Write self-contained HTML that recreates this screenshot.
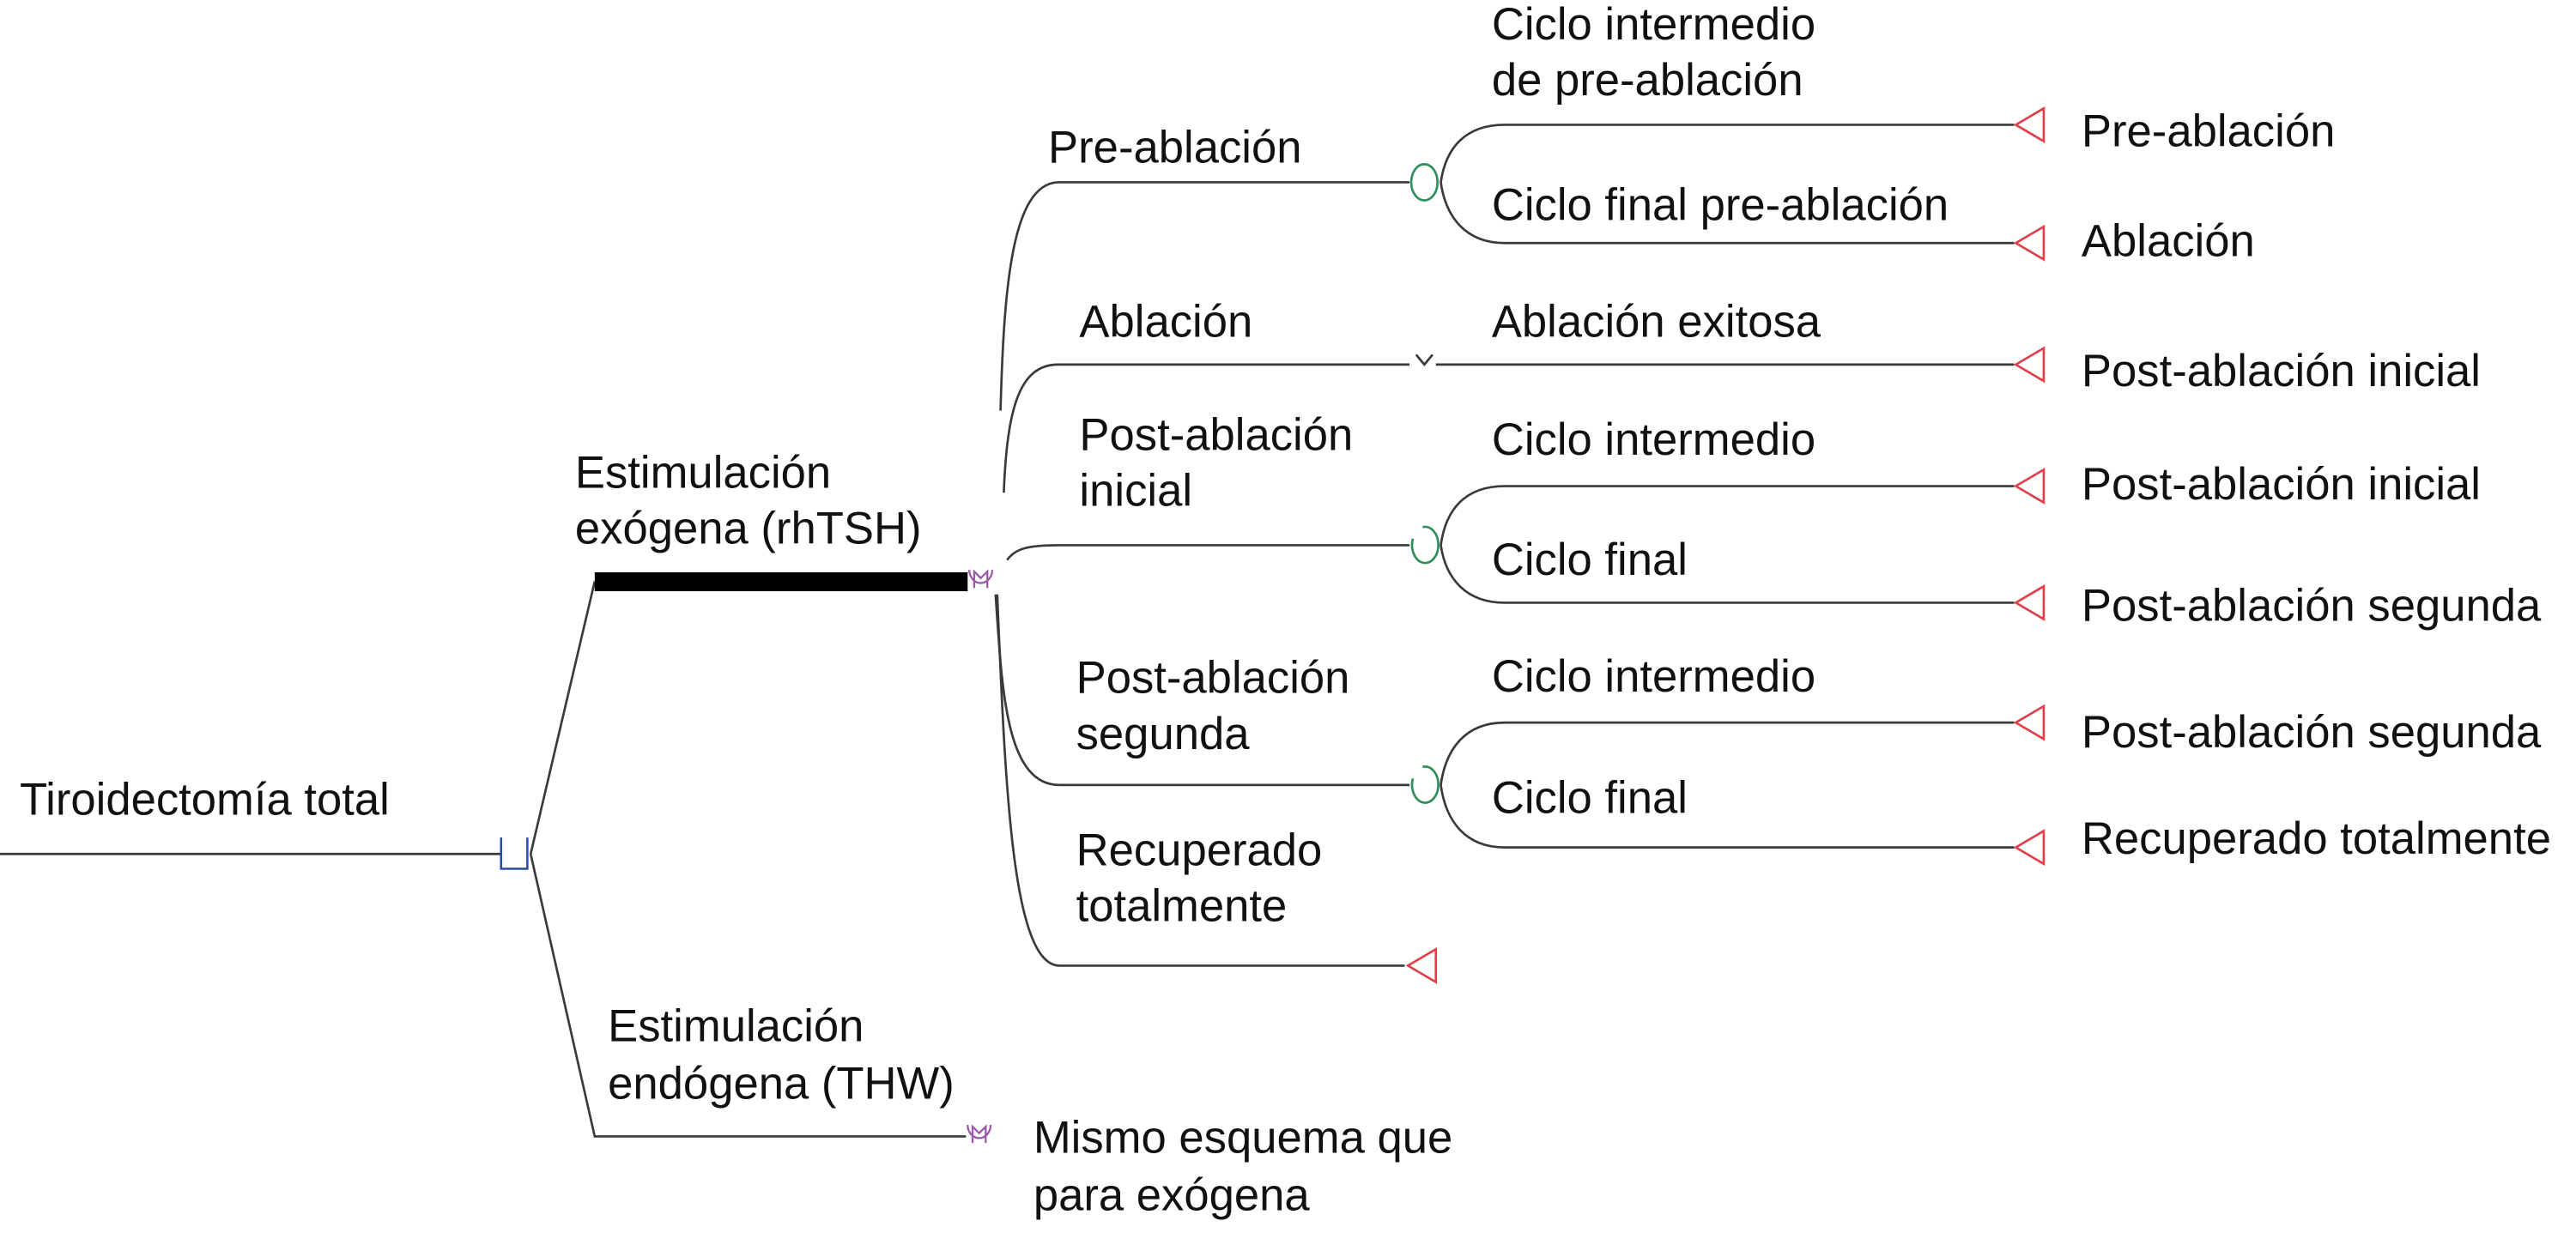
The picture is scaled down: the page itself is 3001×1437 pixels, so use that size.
<!DOCTYPE html>
<html><head><meta charset="utf-8"><style>
html,body{margin:0;padding:0;background:#fff;}
svg{display:block;}
text{font-family:"Liberation Sans",Arial,sans-serif;font-size:27.5px;fill:#111;}
</style></head><body>
<svg width="3001" height="1437" viewBox="0 0 1568 750.8" preserveAspectRatio="none" xmlns="http://www.w3.org/2000/svg">
<g fill="none" stroke="#3a3a3a" stroke-width="1.4">
<!-- root -->
<line x1="0" y1="520" x2="305" y2="520"/>
<path d="M323 520 L362 354"/>
<path d="M323 520 L362 692 L588 692"/>
<!-- fan from exogenous node -->
<path d="M609 250 C611 180 615 112 644 111 L858 111"/>
<path d="M611 300 C613 250 620 222 644 222 L858 222"/>
<path d="M613 341 C618 334 626 332 644 332 L858 332"/>
<path d="M606 362 C610 420 612 478 645 478 L858 478"/>
<path d="M607 362 C612 480 616 588 645 588 L855 588"/>
<!-- ablación exitosa -->
<path d="M862 216 L867 222 L872 216"/>
<line x1="874" y1="222" x2="1226" y2="222"/>
<!-- pre-ablación chance -->
<path d="M877 111 C880 90 892 76 916 76 L1226 76"/>
<path d="M877 111 C880 132 892 148 916 148 L1226 148"/>
<!-- post inicial chance -->
<path d="M877 332 C880 310 892 296 916 296 L1226 296"/>
<path d="M877 332 C880 352 892 367 916 367 L1226 367"/>
<!-- post segunda chance -->
<path d="M877 478 C880 456 892 440 916 440 L1226 440"/>
<path d="M877 478 C880 500 892 516 916 516 L1226 516"/>
</g>
<!-- thick bar -->
<rect x="362" y="348.5" width="227" height="11.5" fill="#000"/>
<!-- root chance node (blue) -->
<path d="M305 510 L305 529 L321 529 L321 510" fill="none" stroke="#2a4aa8" stroke-width="1.3"/>
<!-- purple nodes -->
<g fill="none" stroke="#9a5aa8" stroke-width="1.2">
<path d="M590 347 A7 8 0 1 0 604 347"/><path d="M593 358 L593 348 L597 352 L601 348 L601 358"/>
<path d="M589 685 A7 8 0 1 0 603 685"/><path d="M592 696 L592 686 L596 690 L600 686 L600 696"/>
</g>
<!-- green chance nodes -->
<g fill="none" stroke="#2f8f5a" stroke-width="1.4">
<ellipse cx="867" cy="111" rx="8" ry="11"/>
<path d="M860 328 A8 11 0 1 0 866 321"/>
<path d="M860 474 A8 11 0 1 0 866 467"/>
</g>
<!-- red terminals -->
<g fill="none" stroke="#e0404a" stroke-width="1.4">
<path d="M1244 66 L1227 76 L1244 86 Z"/>
<path d="M1244 138 L1227 148 L1244 158 Z"/>
<path d="M1244 212 L1227 222 L1244 232 Z"/>
<path d="M1244 286 L1227 296 L1244 306 Z"/>
<path d="M1244 357 L1227 367 L1244 377 Z"/>
<path d="M1244 430 L1227 440 L1244 450 Z"/>
<path d="M1244 506 L1227 516 L1244 526 Z"/>
<path d="M874 578 L857 588 L874 598 Z"/>
</g>
<!-- text -->
<text x="12" y="496">Tiroidectomía total</text>
<text x="350" y="297">Estimulación</text>
<text x="350" y="331">exógena (rhTSH)</text>
<text x="370" y="634">Estimulación</text>
<text x="370" y="669">endógena (THW)</text>
<text x="629" y="702">Mismo esquema que</text>
<text x="629" y="737">para exógena</text>
<text x="638" y="99">Pre-ablación</text>
<text x="657" y="205">Ablación</text>
<text x="657" y="274">Post-ablación</text>
<text x="657" y="308">inicial</text>
<text x="655" y="422">Post-ablación</text>
<text x="655" y="456">segunda</text>
<text x="655" y="527">Recuperado</text>
<text x="655" y="561">totalmente</text>
<text x="908" y="24">Ciclo intermedio</text>
<text x="908" y="58">de pre-ablación</text>
<text x="908" y="134">Ciclo final pre-ablación</text>
<text x="908" y="205">Ablación exitosa</text>
<text x="908" y="277">Ciclo intermedio</text>
<text x="908" y="350">Ciclo final</text>
<text x="908" y="421">Ciclo intermedio</text>
<text x="908" y="495">Ciclo final</text>
<text x="1267" y="89">Pre-ablación</text>
<text x="1267" y="156">Ablación</text>
<text x="1267" y="235">Post-ablación inicial</text>
<text x="1267" y="304">Post-ablación inicial</text>
<text x="1267" y="378">Post-ablación segunda</text>
<text x="1267" y="455">Post-ablación segunda</text>
<text x="1267" y="520">Recuperado totalmente</text>
</svg>
</body></html>
